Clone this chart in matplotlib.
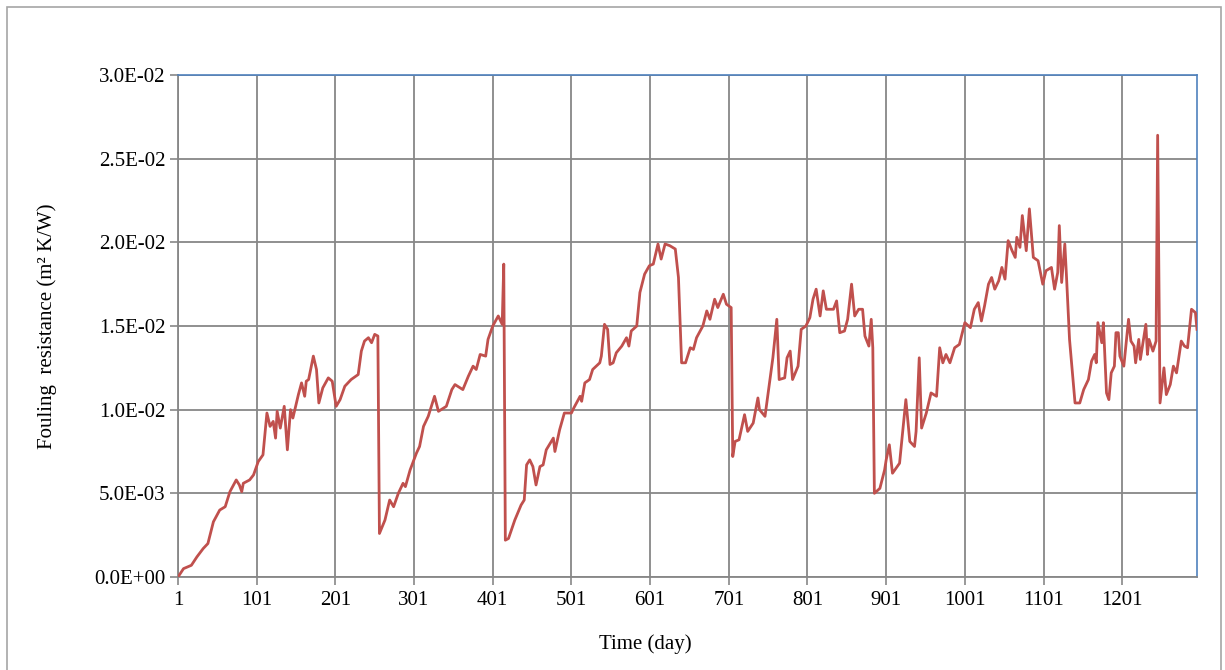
import matplotlib
matplotlib.use("Agg")
import matplotlib.pyplot as plt
from matplotlib.patches import Rectangle
from matplotlib.ticker import FuncFormatter

# values (day, fouling resistance m2K/W)
days = [1, 8, 18, 25, 33, 39, 46, 54, 61, 67, 75, 79, 82, 84, 92, 97, 103, 109,
        114, 118, 122, 125, 127, 131, 136, 140, 144, 147, 154, 158, 162, 164, 167,
        173, 177, 180, 185, 192, 197, 202, 207, 213, 221, 230, 234, 238, 243, 247,
        251, 255, 257, 264, 270, 275, 281, 287, 290, 296, 304, 308, 313, 319, 327,
        332, 342, 349, 353, 363, 370, 376, 380, 385, 392, 395, 401, 408, 413, 415,
        417, 421, 429, 437, 441, 444, 448, 452, 456, 461, 465, 469, 478, 480, 486,
        492, 501, 504, 512, 514, 518, 524, 528, 537, 539, 543, 547, 550, 554, 558,
        565, 571, 574, 577, 584, 588, 594, 600, 605, 611, 615, 620, 626, 633, 637,
        641, 646, 652, 656, 660, 668, 673, 677, 683, 687, 694, 698, 704, 706, 709,
        714, 721, 725, 732, 738, 740, 747, 751, 757, 762, 765, 772, 775, 779, 782,
        789, 793, 799, 804, 808, 812, 817, 821, 825, 834, 838, 842, 848, 852, 857,
        861, 866, 871, 874, 879, 882, 884, 886, 893, 899, 901, 905, 909, 918, 926,
        931, 937, 939, 943, 946, 952, 958, 965, 969, 973, 977, 982, 988, 994, 1001,
        1008, 1013, 1018, 1022, 1026, 1031, 1035, 1039, 1044, 1048, 1052, 1056, 1061,
        1065, 1067, 1071, 1074, 1079, 1083, 1088, 1094, 1100, 1104, 1111, 1115, 1119,
        1121, 1124, 1128, 1130, 1134, 1141, 1147, 1152, 1158, 1162, 1166, 1168, 1170,
        1175, 1177, 1181, 1184, 1187, 1191, 1193, 1196, 1198, 1203, 1209, 1212, 1216,
        1218, 1222, 1224, 1228, 1231, 1233, 1235, 1240, 1244, 1246, 1249, 1254, 1257,
        1262, 1266, 1270, 1276, 1280, 1284, 1289, 1294, 1296]
rf = [0.0, 0.0005, 0.0007, 0.0012, 0.0017, 0.0020, 0.0033, 0.0040, 0.0042, 0.0051,
      0.0058, 0.0055, 0.0051, 0.0056, 0.0058, 0.0061, 0.0069, 0.0073, 0.0098, 0.0090,
      0.0093, 0.0083, 0.0099, 0.0089, 0.0102, 0.0076, 0.0100, 0.0095, 0.0109, 0.0116,
      0.0108, 0.0117, 0.0118, 0.0132, 0.0124, 0.0104, 0.0113, 0.0119, 0.0117, 0.0102,
      0.0106, 0.0114, 0.0118, 0.0121, 0.0135, 0.0141, 0.0143, 0.0140, 0.0145, 0.0144,
      0.0026, 0.0034, 0.0046, 0.0042, 0.0050, 0.0056, 0.0054, 0.0064, 0.0074, 0.0078,
      0.0090, 0.0096, 0.0108, 0.0099, 0.0102, 0.0112, 0.0115, 0.0112, 0.0120, 0.0126,
      0.0124, 0.0133, 0.0132, 0.0142, 0.0150, 0.0156, 0.0151, 0.0187, 0.0022, 0.0023,
      0.0034, 0.0043, 0.0046, 0.0067, 0.0070, 0.0066, 0.0055, 0.0066, 0.0067, 0.0076,
      0.0083, 0.0075, 0.0088, 0.0098, 0.0098, 0.0101, 0.0108, 0.0105, 0.0116, 0.0118,
      0.0124, 0.0128, 0.0132, 0.0151, 0.0148, 0.0127, 0.0128, 0.0134, 0.0138, 0.0143,
      0.0138, 0.0147, 0.0150, 0.0170, 0.0181, 0.0186, 0.0187, 0.0199, 0.0190, 0.0199,
      0.0198, 0.0196, 0.0179, 0.0128, 0.0128, 0.0137, 0.0136, 0.0143, 0.0150, 0.0159,
      0.0154, 0.0166, 0.0161, 0.0169, 0.0163, 0.0161, 0.0072, 0.0081, 0.0082, 0.0097,
      0.0087, 0.0092, 0.0107, 0.0100, 0.0096, 0.0110, 0.0131, 0.0154, 0.0118, 0.0119,
      0.0131, 0.0135, 0.0118, 0.0126, 0.0148, 0.0150, 0.0155, 0.0166, 0.0172, 0.0156,
      0.0171, 0.0160, 0.0160, 0.0165, 0.0146, 0.0147, 0.0154, 0.0175, 0.0156, 0.0160,
      0.0160, 0.0144, 0.0138, 0.0154, 0.0137, 0.0050, 0.0053, 0.0064, 0.0070, 0.0079,
      0.0062, 0.0068, 0.0106, 0.0081, 0.0078, 0.0087, 0.0131, 0.0089, 0.0098, 0.0110,
      0.0108, 0.0137, 0.0128, 0.0133, 0.0128, 0.0137, 0.0139, 0.0152, 0.0149, 0.0160,
      0.0164, 0.0153, 0.0162, 0.0175, 0.0179, 0.0172, 0.0177, 0.0185, 0.0178, 0.0201,
      0.0195, 0.0191, 0.0203, 0.0197, 0.0216, 0.0195, 0.0220, 0.0191, 0.0189, 0.0175,
      0.0183, 0.0185, 0.0172, 0.0182, 0.0210, 0.0176, 0.0199, 0.0181, 0.0142, 0.0104,
      0.0104, 0.0112, 0.0118, 0.0129, 0.0133, 0.0128, 0.0152, 0.0140, 0.0152, 0.0110,
      0.0106, 0.0122, 0.0126, 0.0146, 0.0146, 0.0132, 0.0126, 0.0154, 0.0141, 0.0138,
      0.0128, 0.0142, 0.0130, 0.0142, 0.0151, 0.0133, 0.0142, 0.0135, 0.0141, 0.0264,
      0.0104, 0.0125, 0.0109, 0.0115, 0.0126, 0.0122, 0.0141, 0.0138, 0.0137, 0.0160,
      0.0158, 0.0148]

x_ticks = [1, 101, 201, 301, 401, 501, 601, 701, 801, 901, 1001, 1101, 1201]
y_ticks = [0.0, 0.005, 0.010, 0.015, 0.020, 0.025, 0.030]

plt.rcParams['font.family'] = ['Liberation Serif', 'DejaVu Serif']

fig = plt.figure(figsize=(12.25, 6.7), dpi=100)
ax = fig.add_axes([178 / 1225, 1 - 577 / 670, (1197 - 178) / 1225, (577 - 75) / 670])

# grey frame round the whole chart
fig.patches.append(Rectangle((7 / 1225, -0.01), 1214 / 1225, 1 - 7 / 670 + 0.01,
                             transform=fig.transFigure, fill=False,
                             edgecolor='#a6a6a6', linewidth=1.2))

ax.plot(days, rf, color='#c0504d', linewidth=2.0, zorder=3)

ax.set_xlim(1, 1296)
ax.set_ylim(0, 0.03)
ax.set_xticks(x_ticks)
ax.set_yticks(y_ticks)
ax.yaxis.set_major_formatter(FuncFormatter(lambda v, p: f"{v:.1E}"))
ax.grid(True, color='#878787', linewidth=1.3)
ax.set_axisbelow(True)

for side in ['top', 'right']:
    ax.spines[side].set_color('#4f81bd')
    ax.spines[side].set_linewidth(1.2)
for side in ['left', 'bottom']:
    ax.spines[side].set_color('#878787')
    ax.spines[side].set_linewidth(1.3)

ax.tick_params(axis='both', length=6, width=1.2, color='#878787',
               labelsize=15, colors='black')
ax.tick_params(axis='x', pad=4)
ax.tick_params(axis='y', pad=3)

ax.set_xlabel('Time (day)', fontsize=15)
ax.set_ylabel('Fouling  resistance (m² K/W)', fontsize=15)
ax.xaxis.set_label_coords((645 - 178) / 1019, (577 - 634) / 502)
ax.yaxis.set_label_coords((57 - 178) / 1019, 0.5)

fig.savefig('out.png', dpi=100)
